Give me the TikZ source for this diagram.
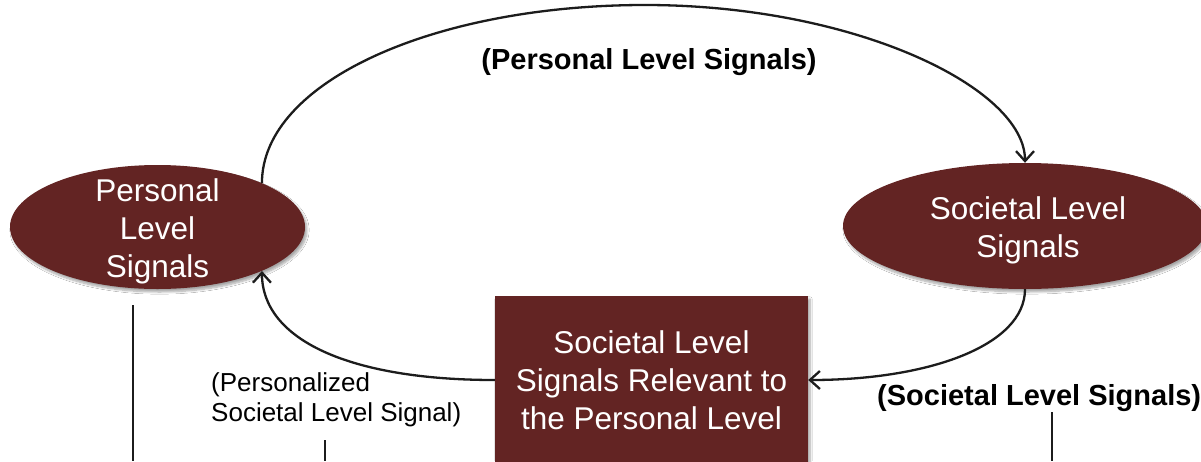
\documentclass[tikz,border=0pt]{standalone}
\usepackage{fontspec}
\setmainfont{Liberation Sans}
\usetikzlibrary{arrows.meta,shapes.geometric,shadows.blur}
\definecolor{maroon}{RGB}{99,36,35}
\definecolor{ink}{RGB}{28,28,28}
\begin{document}
\begin{tikzpicture}[x=1pt,y=-1pt,
  sigell/.style={ellipse, fill=maroon, inner sep=0pt,
    blur shadow={shadow xshift=2pt, shadow yshift=-3pt, shadow opacity=35, shadow blur steps=8}},
  sigbox/.style={rectangle, fill=maroon, inner sep=0pt,
    blur shadow={shadow xshift=2pt, shadow yshift=-3pt, shadow opacity=35, shadow blur steps=8}},
  bigtext/.style={text=white, align=center, font=\fontsize{31.5}{38}\selectfont, inner sep=0pt},
  boldlabel/.style={font=\bfseries\fontsize{29}{35}\selectfont, inner sep=0pt},
  smalllabel/.style={font=\fontsize{26}{30.5}\selectfont, align=left, inner sep=0pt},
  flow/.style={draw=ink, line width=2.3pt, -{Straight Barb[length=10pt,width=18pt]}},
  drop/.style={draw=ink, line width=2pt}]
  \clip (0,0) rectangle (1201,461);
  \fill[white] (0,0) rectangle (1201,461);

  % signal nodes
  \node[sigell, minimum width=295pt, minimum height=124pt,
        label={[bigtext,yshift=-4pt]center:Personal\\Level\\Signals}] (pls) at (157.5,227) {};
  \node[sigell, minimum width=364pt, minimum height=126pt,
        label={[bigtext,xshift=3pt,yshift=-4pt]center:Societal Level\\Signals}] (sls) at (1025,226) {};
  \node[sigbox, minimum width=313pt, minimum height=168pt,
        label={[bigtext]center:Societal Level\\Signals Relevant to\\the Personal Level}] (rel) at (651.5,380) {};

  % labels
  \node[boldlabel] (toplab) at (649,62) {(Personal Level Signals)};
  \node[boldlabel, anchor=west] (soclab) at (877,398) {(Societal Level Signals)};
  \node[smalllabel, anchor=west] (perslab) at (211,400) {(Personalized\\Societal Level Signal)};

  % flows between the signal levels
  \draw[flow] (pls.north east) .. controls (262,82) and (434,5) .. (645,5)
                               .. controls (855,5) and (1025,88) .. (sls.north);
  \draw[flow] (sls.south) .. controls (1025,345) and (930,380) .. (rel.east);
  \draw[flow] (rel.west) .. controls (350,380) and (262,340) .. (pls.south east);

  % lines running down out of view
  \coordinate (d1a) at (133,305);  \coordinate (d1b) at (133,461);
  \coordinate (d2a) at (325,440);  \coordinate (d2b) at (325,461);
  \coordinate (d3a) at (1052,412); \coordinate (d3b) at (1052,461);
  \draw[drop] (d1a) -- (d1b);
  \draw[drop] (d2a) -- (d2b);
  \draw[drop] (d3a) -- (d3b);
\end{tikzpicture}
\end{document}
